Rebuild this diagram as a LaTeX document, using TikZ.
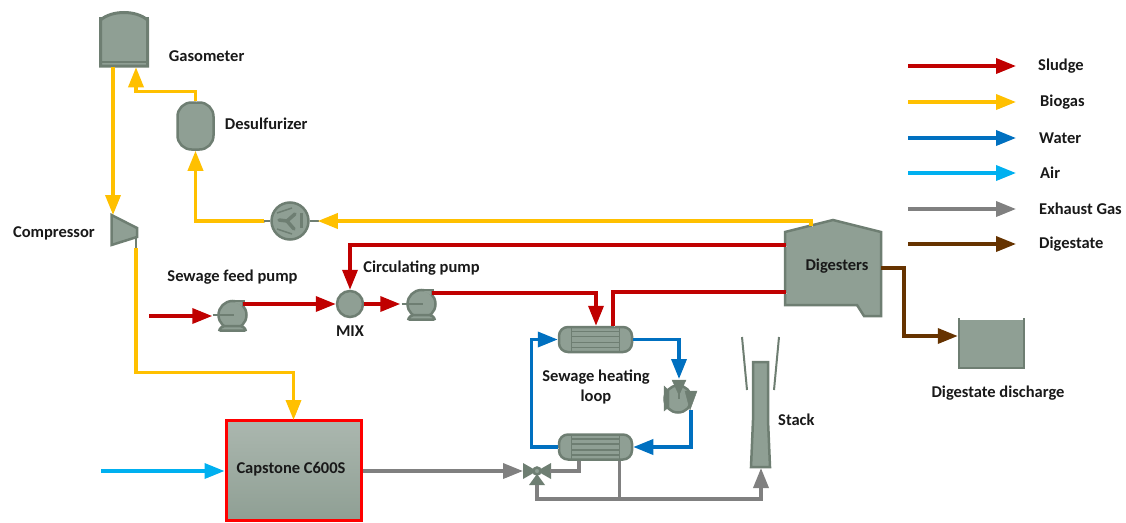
\documentclass[tikz,border=0pt]{standalone}
\usepackage{fontspec}
\setmainfont{Carlito}
\usetikzlibrary{arrows.meta, positioning}

\definecolor{unitfill}{HTML}{8F9F94}
\definecolor{unitline}{HTML}{6E7E72}
\definecolor{sludgecol}{HTML}{C00000}
\definecolor{biogascol}{HTML}{FFC000}
\definecolor{watercol}{HTML}{0070C0}
\definecolor{aircol}{HTML}{00B0F0}
\definecolor{exhaustcol}{HTML}{808080}
\definecolor{digestatecol}{HTML}{663300}

\begin{document}
\begin{tikzpicture}[
            x = 1pt,
            y = -1pt,
            node distance = 10pt,
            line join = miter
        ]

        \tikzset{
            unit/.style = {draw = unitline, line width = 2.5pt, fill = unitfill, inner sep = 0pt},
            lbl/.style = {font = \fontsize{16.5}{18}\selectfont\bfseries, inner sep = 0pt, text = black!90},
            stub/.style = {draw = unitline, line width = 2.5pt},
            shade line/.style = {preaction = {draw = black!25, transform canvas = {xshift = 1pt, yshift = -1pt}}},
            flow/.style = {line width = 3.5pt, -{Triangle[length = 20pt, width = 15pt]}, shade line},
            sludge/.style = {flow, draw = sludgecol},
            biogas/.style = {flow, draw = biogascol},
            water/.style = {flow, draw = watercol},
            air/.style = {flow, draw = aircol},
            exhaust/.style = {flow, draw = exhaustcol},
            digestate/.style = {flow, draw = digestatecol}
        }

        \useasboundingbox (0,0) rectangle (1126,522);

        % equipment
        \node[unit, minimum width = 47pt, minimum height = 48pt] (gasometer) at (124,42) {};
        \draw[unit, line width = 3pt] (100.5,20) .. controls (112,10) and (136,10) .. (147.5,20) -- (147.5,66) -- (100.5,66) -- cycle;
        \draw[unitline, line width = 1.5pt] (102,62) -- (146,62);
        \node[unit, rounded corners = 14pt, minimum width = 36pt, minimum height = 47pt] (desulf) at (195.5,126) {};

        \node[unit, circle, minimum size = 37pt] (fan) at (290,221) {};
        \draw[unitline, line width = 3.5pt, line cap = round] (287,221) -- (295,214) (287,221) -- (279,220) (287,221) -- (294,229);
        \draw[unitline, line width = 2.5pt] (301.5,213) -- (301.5,228);
        \draw[unitline, line width = 1.5pt] (277,213) -- (292,208) (277,229) -- (292,234);

        \draw[unit] (111.5,215) -- (137,228) -- (137,237) -- (111.5,245) -- cycle;
        \coordinate (compin) at (113,215);
        \coordinate (compout) at (136,237);

        \node[unit, circle, minimum size = 28pt] (pumpa) at (232.5,315) {};
        \node[unit, circle, minimum size = 26pt] (mix) at (350,304) {};
        \node[unit, circle, minimum size = 28pt] (pumpb) at (421.5,304) {};
        \foreach \p in {pumpa, pumpb} {
            \draw[unit, rounded corners = 2pt] ([xshift = -14pt, yshift = -15.5pt]\p.center) -- ([xshift = 14pt, yshift = -15.5pt]\p.center)
                -- ([xshift = 10pt, yshift = -11pt]\p.center) -- ([xshift = -10pt, yshift = -11pt]\p.center) -- cycle;
            \draw[unit] ([yshift = 14pt]\p.center) -- ([xshift = 11pt, yshift = 14pt]\p.center) -- ([xshift = 11pt, yshift = 8pt]\p.center);
            \draw[unitline, line width = 1.5pt] ([xshift = -20pt]\p.center) -- ([xshift = 1pt]\p.center);
        }

        \foreach \h/\yy in {hxa/339.5, hxb/447} {
            \node[unit, rounded corners = 9pt, minimum width = 73pt, minimum height = 25pt] (\h) at (595.5,\yy) {};
            \draw[unitline, line width = 1.5pt] ([xshift = -24pt, yshift = 12pt]\h.center) -- ([xshift = -24pt, yshift = -12pt]\h.center)
                ([xshift = 24pt, yshift = 12pt]\h.center) -- ([xshift = 24pt, yshift = -12pt]\h.center);
            \foreach \o in {-8,-3,3,8}
                \draw[unitline, line width = 1.5pt] ([xshift = -24pt, yshift = \o pt]\h.center) -- ([xshift = 24pt, yshift = \o pt]\h.center);
        }

        \node[unit, circle, minimum size = 27pt] (pumpc) at (678,399) {};
        \draw[unitline, fill = unitline] (664,386) -- (669,391) -- (669,407) -- (664,411) -- cycle;
        \draw[unitline, fill = unitline] (697,391) -- (690,410) -- (685,391) -- cycle;
        \draw[unitline, fill = unitline] (672,380) -- (686,380) -- (679,395) -- cycle;
        \draw[unitline, line width = 1.5pt] (679,385) -- (679,399);
        \coordinate (pumpcin) at (679,379);
        \coordinate (pumpcout) at (691,410);

        \draw[unit] (753,362) -- (768,362) -- (768,420) -- (770,467) -- (751,467) -- (753,420) -- cycle;
        \draw[unitline, line width = 2pt] (742,337) -- (747,390) (779,337) -- (774,390);
        \coordinate (stackin) at (761,468);

        \draw[unit] (785,232) -- (833,220) -- (881,232) -- (881,316) -- (864,316) -- (857,305) -- (785,305) -- cycle;
        \coordinate (digtop) at (811,226);
        \coordinate (digup) at (786,245);
        \coordinate (diglow) at (786,292);
        \coordinate (digout) at (881,268);

        \node[unit, minimum width = 65pt, minimum height = 48pt, draw = none] (discharge) at (991.5,344) {};
        \draw[unitline, line width = 2pt] (959,318) -- (959,368) -- (1024,368) -- (1024,318);

        \node[draw = red, line width = 3pt, top color = unitfill!75!white, bottom color = unitfill,
            minimum width = 135pt, minimum height = 100pt, inner sep = 0pt] (capstone) at (293.5,470.5) {};

        \fill[unitline] (523,463) -- (537,471) -- (523,479) -- cycle (551,463) -- (537,471) -- (551,479) -- cycle;
        \fill[unitline] (529,485) -- (545,485) -- (537,474) -- cycle;
        \node[unit, circle, minimum size = 7pt] (valve) at (537,471) {};
        \coordinate (valveleft) at (523,471);
        \coordinate (valveright) at (550,471);
        \coordinate (valvelow) at (537,485);

        % biogas
        \draw[biogas] ([xshift = -11pt]gasometer.south) -- (compin);
        \draw[biogas] (desulf.north) |- (136,91.5) -- ([xshift = 12pt]gasometer.south);
        \draw[stub] (fan.west) -- ++(-6,0);
        \draw[biogas] ([xshift = -6pt]fan.west) -| (desulf.south);
        \draw[stub] (fan.east) -- ++(9,0);
        \draw[biogas] (digtop) |- ([xshift = 8pt]fan.east);
        \draw[stub] (compout) -- ++(0,11);
        \draw[biogas] ([yshift = -11pt]compout) |- (293.5,372.5) -- (293.5,420);

        % sludge
        \coordinate (feedstart) at (149,316);
        \draw[sludge] (feedstart) -- ([xshift = -5pt, yshift = -1pt]pumpa.west);
        \draw[sludge] ([xshift = 10pt, yshift = 11pt]pumpa.center) -- (mix.west);
        \draw[sludge] (mix.east) -- ([xshift = -6pt]pumpb.west);
        \draw[sludge] ([xshift = 10pt, yshift = 11pt]pumpb.center) -| ([xshift = 0.5pt]hxa.north);
        \draw[sludge] (digup) -| (mix.north);
        \draw[sludgecol, line width = 3.5pt, shade line] (diglow) -| ([xshift = 17.5pt]hxa.north);

        % water
        \draw[water] (hxa.east) -| (pumpcin);
        \draw[water] (pumpcout) |- (hxb.east);
        \draw[water] (hxb.west) -- (531.5,447) -- (531.5,339.5) -- (hxa.west);

        % air and exhaust
        \coordinate (airstart) at (101,471);
        \draw[air] (airstart) -- (capstone.west |- airstart);
        \draw[exhaust] (capstone.east |- airstart) -- (valveleft);
        \draw[exhaustcol, line width = 3.5pt, shade line] (valveright) -| ([xshift = -16.5pt]hxb.south);
        \draw[exhaust] (valvelow) |- (761,499) -- (stackin);
        \draw[exhaustcol, line width = 3.5pt] ([xshift = 24pt]hxb.south) -- ([xshift = 24pt]hxb.south |- 0,499);

        % digestate
        \draw[digestate] (digout) -- (904,268) -- (904,336) -- (discharge.west |- 0,336);

        % labels
        \node[lbl, right = 20pt of gasometer, yshift = -14pt] (gasometertxt) {Gasometer};
        \node[lbl, right = 10pt of desulf, yshift = 2pt] (desulftxt) {Desulfurizer};
        \node[lbl, anchor = east] (comptxt) at (95,233) {Compressor};
        \node[lbl, above = 15pt of pumpa] (pumpatxt) {Sewage feed pump};
        \node[lbl, above = 13pt of pumpb] (pumpbtxt) {Circulating pump};
        \node[lbl, below = 7pt of mix] (mixtxt) {MIX};
        \node[lbl, align = center] (looptxt) at (596,387) {Sewage heating\\[2pt]loop};
        \node[lbl, anchor = west] (stacktxt) at (778,420) {Stack};
        \node[lbl] (digesters) at (837,266) {Digesters};
        \node[lbl] (dischargetxt) at (998,393) {Digestate discharge};
        \node[lbl] (capstonetxt) at (291,469) {Capstone C600S};

        % legend
        \foreach \st/\txt/\yy/\xx in {sludge/Sludge/66/1038, biogas/Biogas/102/1040, water/Water/138/1039,
                air/Air/173/1040, exhaust/Exhaust Gas/209/1039, digestate/Digestate/244/1039} {
            \coordinate (\st a) at (908,\yy);
            \coordinate (\st b) at (1016,\yy);
            \draw[\st] (\st a) -- (\st b);
            \node[lbl, anchor = west] (\st txt) at (\xx,\yy) {\txt};
        }

    \end{tikzpicture}
\end{document}
